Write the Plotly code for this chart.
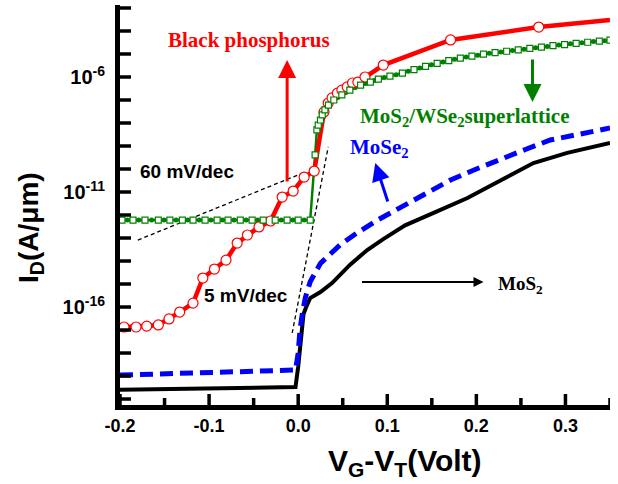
import plotly.graph_objects as go

# ---------------- data (x in volts, current given as log10 of A/um) ----------------
mos2_x = [-0.2, -0.1, -0.003, 0.0, 0.003, 0.006, 0.009, 0.0135, 0.025, 0.038, 0.058,
          0.0775, 0.0955, 0.12, 0.152, 0.19, 0.227, 0.264, 0.302, 0.35]
mos2_logI = [-19.6, -19.55, -19.48, -18.6, -17.2, -16.3, -16.0, -15.61, -15.35, -14.96, -14.17,
             -13.52, -13.05, -12.45, -11.91, -11.26, -10.5, -9.74, -9.30, -8.87]

mose2_x = [-0.2, -0.1, -0.003, 0.0, 0.002, 0.005, 0.008, 0.0135, 0.025, 0.047, 0.066,
           0.09, 0.115, 0.14, 0.171, 0.2, 0.227, 0.255, 0.283, 0.315, 0.35]
mose2_logI = [-18.96, -18.85, -18.74, -18.0, -17.0, -16.2, -15.6, -14.9, -14.1, -13.3, -12.78,
              -12.2, -11.65, -11.1, -10.48, -10.0, -9.61, -9.15, -8.74, -8.5, -8.22]

bp_x = [-0.1955, -0.182, -0.170, -0.157, -0.145, -0.133, -0.118, -0.107, -0.094, -0.081,
        -0.0685, -0.057, -0.044, -0.031, -0.018, -0.0056, 0.0067, 0.018, 0.026, 0.029,
        0.0337, 0.038, 0.044, 0.049, 0.055, 0.061, 0.067, 0.075, 0.0955, 0.171, 0.27, 0.35]
bp_logI = [-16.87, -16.87, -16.83, -16.78, -16.52, -16.22, -15.83, -14.74, -14.35, -13.96,
           -13.22, -12.87, -12.52, -12.26, -11.22, -10.96, -10.35, -10.09, -8.09, -7.52,
           -7.13, -6.91, -6.70, -6.57, -6.43, -6.26, -6.22, -6.0, -5.48, -4.39, -3.83, -3.52]
bp_has_marker = [1, 1, 1, 1, 1, 1, 1, 1, 1, 1,
                 1, 1, 1, 1, 1, 1, 1, 1, 0, 1,
                 1, 1, 1, 1, 1, 1, 1, 1, 1, 1, 1, 0]

sl_sq_x = [-0.1978, -0.1854, -0.172, -0.157, -0.144, -0.130, -0.118, -0.1045, -0.091, -0.0787,
           -0.065, -0.0517, -0.0393, -0.0258, -0.0124, 0.0, 0.0135, 0.019, 0.021, 0.0225,
           0.025, 0.027, 0.030, 0.034, 0.040, 0.049, 0.058, 0.070, 0.081, 0.090,
           0.103, 0.117, 0.130, 0.143, 0.156, 0.169, 0.182, 0.195, 0.208, 0.221,
           0.234, 0.247, 0.260, 0.273, 0.286, 0.299, 0.312, 0.325, 0.338, 0.350]
sl_sq_logI = [-12.22] * 17 + [-9.39, -8.30, -8.09,
              -7.87, -7.65, -7.43, -7.22, -7.00, -6.78, -6.57, -6.35, -6.22, -6.09,
              -5.96, -5.83, -5.68, -5.54, -5.41, -5.29, -5.18, -5.09, -5.01, -4.94,
              -4.88, -4.82, -4.76, -4.70, -4.64, -4.59, -4.54, -4.49, -4.44, -4.40]

sl_dot_x = [-0.1916, -0.179, -0.1645, -0.1505, -0.137, -0.124, -0.111, -0.098, -0.085, -0.072,
            -0.0585, -0.0455, -0.0325, -0.019, -0.006, 0.0067,
            0.0445, 0.0535, 0.064, 0.0755, 0.0855, 0.0965, 0.110, 0.1235, 0.1365, 0.1495,
            0.1625, 0.1755, 0.1885, 0.2015, 0.2145, 0.2275, 0.2405, 0.2535, 0.2665, 0.2795,
            0.2925, 0.3055, 0.3185, 0.3315, 0.344]
sl_dot_logI = [-12.22] * 16 + [-6.89, -6.67, -6.46, -6.28, -6.15, -6.02, -5.90, -5.75, -5.61, -5.47,
               -5.35, -5.23, -5.13, -5.05, -4.97, -4.91, -4.85, -4.79, -4.73, -4.67,
               -4.61, -4.56, -4.51, -4.46, -4.42]

# subthreshold-slope guide lines (endpoints)
ss60_x = [-0.18, 0.0079]
ss60_logI = [-13.09, -10.13]
ss5_x = [-0.0067, 0.0337]
ss5_logI = [-17.13, -9.04]

x_ticks = [-0.2, -0.1, 0.0, 0.1, 0.2, 0.3]
x_ticktext = ["-0.2", "-0.1", "0.0", "0.1", "0.2", "0.3"]
x_minor = [-0.15, -0.05, 0.05, 0.15, 0.25, 0.35]
y_decades = list(range(-20, -2))
y_labeled = [-16, -11, -6]

X_RANGE = [-0.2, 0.35]
Y_RANGE = [-20.26, -2.87]
PLOT_W, PLOT_H = 490, 400


def lin(v):
    return [10 ** e for e in v]


SANS = "Liberation Sans, Arial, sans-serif"
SERIF = "Liberation Serif, Times New Roman, serif"
RED = "#ff0000"
GREEN = "#008000"
BLUE = "#0000ff"

fig = go.Figure()

fig.add_trace(go.Scatter(x=ss60_x, y=lin(ss60_logI), mode="lines",
                         line=dict(color="black", width=1.3, dash="4px,3px"), hoverinfo="skip"))
fig.add_trace(go.Scatter(x=ss5_x, y=lin(ss5_logI), mode="lines",
                         line=dict(color="black", width=1.3, dash="4px,3px"), hoverinfo="skip"))

fig.add_trace(go.Scatter(x=mos2_x, y=lin(mos2_logI), mode="lines",
                         line=dict(color="black", width=4)))
fig.add_trace(go.Scatter(x=mose2_x, y=lin(mose2_logI), mode="lines",
                         line=dict(color=BLUE, width=5, dash="13px,7px")))

# superlattice: line + dots + open squares
fig.add_trace(go.Scatter(x=sl_sq_x, y=lin(sl_sq_logI), mode="lines",
                         line=dict(color=GREEN, width=2.5)))
fig.add_trace(go.Scatter(x=sl_dot_x, y=lin(sl_dot_logI), mode="markers",
                         marker=dict(color=GREEN, size=5, symbol="circle")))

# black phosphorus
fig.add_trace(go.Scatter(x=bp_x, y=lin(bp_logI), mode="lines+markers",
                         line=dict(color=RED, width=4.5),
                         marker=dict(size=[10 if m else 0 for m in bp_has_marker],
                                     symbol="circle", color="white", opacity=1,
                                     line=dict(color=RED, width=1.2))))

fig.add_trace(go.Scatter(x=sl_sq_x, y=lin(sl_sq_logI), mode="markers",
                         marker=dict(size=6, symbol="square", color="white",
                                     line=dict(color=GREEN, width=1.2))))

# inward tick marks, built from the tick arrays and the axis ranges
y_lo = 10 ** Y_RANGE[0]
y_major_end = 10 ** (Y_RANGE[0] + 11 / PLOT_H * (Y_RANGE[1] - Y_RANGE[0]))
y_minor_end = 10 ** (Y_RANGE[0] + 7 / PLOT_H * (Y_RANGE[1] - Y_RANGE[0]))
x_tick_end = X_RANGE[0] + 11 / PLOT_W * (X_RANGE[1] - X_RANGE[0])
tx, ty = [], []
for v in x_ticks:
    tx += [v, v, None]
    ty += [y_lo, y_major_end, None]
for v in x_minor:
    tx += [v, v, None]
    ty += [y_lo, y_minor_end, None]
for e in y_decades:
    tx += [X_RANGE[0], x_tick_end, None]
    ty += [10 ** e, 10 ** e, None]
fig.add_trace(go.Scatter(x=tx, y=ty, mode="lines", line=dict(color="black", width=3.5),
                         hoverinfo="skip", cliponaxis=False))

ann = []
# labels
ann.append(dict(x=-0.055, y=-4.39, text="Black phosphorus", showarrow=False,
                font=dict(family=SERIF, size=21, color=RED, weight="bold")))
ann.append(dict(x=0.1876, y=-7.75, text="MoS<sub>2</sub>/WSe<sub>2</sub>superlattice", showarrow=False,
                font=dict(family=SERIF, size=21, color=GREEN, weight="bold")))
ann.append(dict(x=0.091, y=-9.1, text="MoSe<sub>2</sub>", showarrow=False,
                font=dict(family=SERIF, size=21, color=BLUE, weight="bold")))
ann.append(dict(x=0.249, y=-15.05, text="MoS<sub>2</sub>", showarrow=False,
                font=dict(family=SERIF, size=19, color="black", weight="bold")))
ann.append(dict(x=-0.1247, y=-10.13, text="60 mV/dec", showarrow=False,
                font=dict(family=SANS, size=19, color="black", weight="bold")))
ann.append(dict(x=-0.0584, y=-15.48, text="5 mV/dec", showarrow=False,
                font=dict(family=SANS, size=19, color="black", weight="bold")))
# arrows
ann.append(dict(x=-0.0124, y=-5.26, ax=0, ay=123, text="", showarrow=True,
                arrowhead=2, arrowsize=1.2, arrowwidth=3, arrowcolor=RED))
ann.append(dict(x=0.263, y=-7.09, ax=0, ay=-44, text="", showarrow=True,
                arrowhead=2, arrowsize=1.2, arrowwidth=3, arrowcolor=GREEN))
ann.append(dict(x=0.0865, y=-9.74, ax=13, ay=40, text="", showarrow=True,
                arrowhead=2, arrowsize=1.2, arrowwidth=3, arrowcolor=BLUE))
ann.append(dict(x=0.208, y=-14.91, ax=-123, ay=0, text="", showarrow=True,
                arrowhead=2, arrowsize=1.0, arrowwidth=2, arrowcolor="black"))
# axis titles
ann.append(dict(xref="paper", yref="paper", x=(405 - 120) / PLOT_W, y=(405 - 462) / PLOT_H,
                xanchor="center", yanchor="middle",
                text="V<sub>G</sub>-V<sub>T</sub>(Volt)", showarrow=False,
                font=dict(family=SANS, size=30, color="black", weight="bold")))
ann.append(dict(xref="paper", yref="paper", x=(30 - 120) / PLOT_W, y=(405 - 228) / PLOT_H,
                xanchor="center", yanchor="middle",
                text="I<sub>D</sub>(A/μm)", showarrow=False, textangle=-90,
                font=dict(family=SANS, size=28, color="black", weight="bold")))

fig.update_layout(
    width=618, height=484,
    margin=dict(l=120, r=8, t=5, b=79),
    paper_bgcolor="white", plot_bgcolor="rgba(0,0,0,0)",
    showlegend=False,
    annotations=ann,
    xaxis=dict(range=X_RANGE, tickmode="array", tickvals=x_ticks, ticktext=x_ticktext,
               ticks="", showline=True, linewidth=5, linecolor="black",
               showgrid=False, zeroline=False,
               tickfont=dict(family=SANS, size=18, color="black", weight="bold")),
    yaxis=dict(type="log", range=Y_RANGE, tickmode="array",
               tickvals=[10 ** e for e in y_decades],
               ticktext=["10<sup>%d</sup>" % e if e in y_labeled else "" for e in y_decades],
               ticks="outside", ticklen=6, tickcolor="rgba(0,0,0,0)",
               showline=True, linewidth=5, linecolor="black", showgrid=False, zeroline=False,
               tickfont=dict(family=SANS, size=20, color="black", weight="bold")),
)

fig.write_html("out.html")
